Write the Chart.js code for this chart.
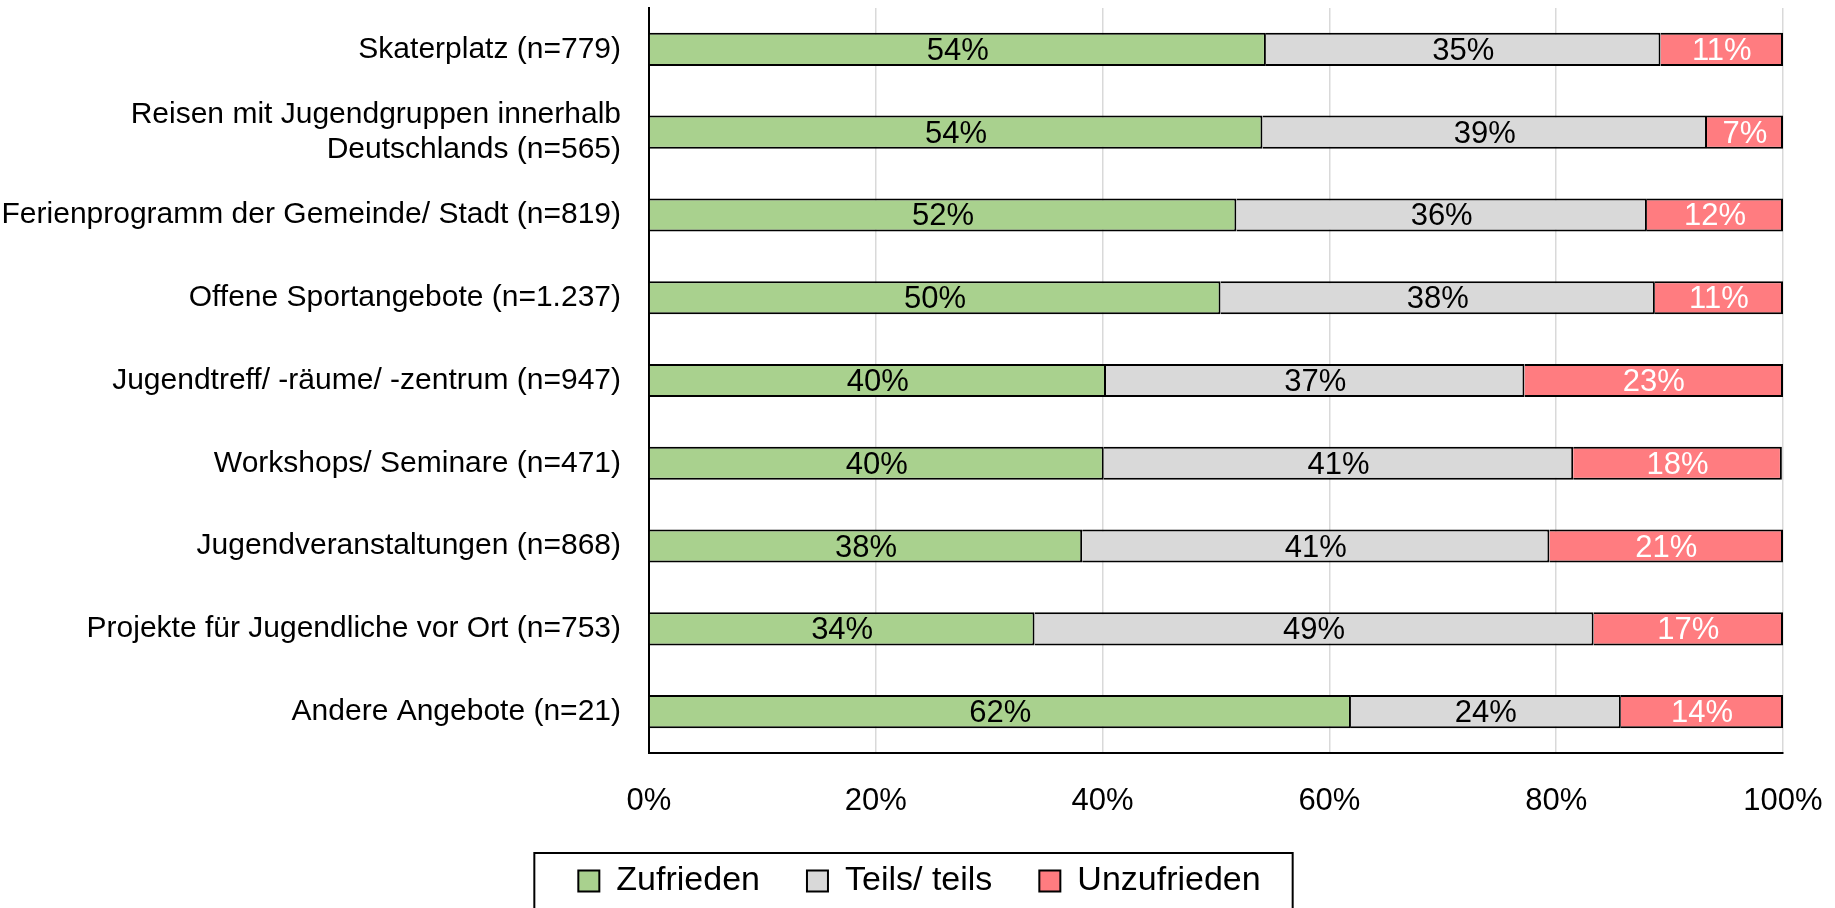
<!DOCTYPE html>
<html lang="de">
<head>
    <meta charset="UTF-8">
    <title>Zufriedenheit mit Angeboten</title>
    <script src="https://cdn.jsdelivr.net/npm/chart.js"></script>
    <style>
        body {
            margin: 0;
            background: #fff;
        }
    </style>
</head>
<body>
    <canvas id="chart" width="1835" height="908"></canvas>

    <script>
        // categories (top to bottom)
        const categories = [
            'Skaterplatz (n=779)',
            ['Reisen mit Jugendgruppen innerhalb', 'Deutschlands (n=565)'],
            'Ferienprogramm der Gemeinde/ Stadt (n=819)',
            'Offene Sportangebote (n=1.237)',
            'Jugendtreff/ -räume/ -zentrum (n=947)',
            'Workshops/ Seminare (n=471)',
            'Jugendveranstaltungen (n=868)',
            'Projekte für Jugendliche vor Ort (n=753)',
            'Andere Angebote (n=21)'
        ];

        // shares in percent
        const zufrieden   = [54.4, 54.1, 51.8, 50.4, 40.3, 40.1, 38.2, 34.0, 61.9];
        const teils       = [34.8, 39.2, 36.2, 38.3, 36.9, 41.4, 41.2, 49.3, 23.8];
        const unzufrieden = [10.8,  6.7, 12.0, 11.3, 22.8, 18.4, 20.6, 16.7, 14.3];

        const xTicks = [0, 20, 40, 60, 80, 100];

        const FONT = '"Liberation Sans", Arial, sans-serif';
        const LEGEND_SHIFT = 28;

        // value labels in the middle of each segment
        const segmentLabels = {
            id: 'segmentLabels',
            afterDatasetsDraw(chart) {
                const ctx = chart.ctx;
                ctx.save();
                ctx.font = '31px ' + FONT;
                ctx.textAlign = 'center';
                ctx.textBaseline = 'middle';
                chart.data.datasets.forEach((ds, i) => {
                    const meta = chart.getDatasetMeta(i);
                    ctx.fillStyle = ds.labelColor;
                    meta.data.forEach((bar, j) => {
                        const cx = (bar.x + bar.base) / 2;
                        ctx.fillText(Math.round(ds.data[j]) + '%', cx, bar.y + 2);
                    });
                });
                ctx.restore();
            }
        };

        // legend sits centred on the whole page, not on the padded box; frame around it
        const legendFrame = {
            id: 'legendFrame',
            afterUpdate(chart) {
                const lg = chart.legend;
                lg.left += LEGEND_SHIFT;
                lg.right += LEGEND_SHIFT;
                (lg.legendHitBoxes || []).forEach(hb => { hb.left += LEGEND_SHIFT; });
            },
            afterDraw(chart) {
                const lg = chart.legend;
                const boxes = lg.legendHitBoxes;
                if (!boxes || !boxes.length) return;
                const first = boxes[0];
                const last = boxes[boxes.length - 1];
                const ctx = chart.ctx;
                ctx.save();
                ctx.strokeStyle = '#000';
                ctx.lineWidth = 2;
                const left = first.left - 44;
                const right = last.left + last.width + 32;
                const top = lg.top + lg.options.labels.padding - 11;
                ctx.strokeRect(left, top, right - left, chart.height - top + 10);
                ctx.restore();
            }
        };

        const ctx = document.getElementById('chart').getContext('2d');

        new Chart(ctx, {
            type: 'bar',
            data: {
                labels: categories,
                datasets: [
                    {
                        label: 'Zufrieden',
                        data: zufrieden,
                        backgroundColor: '#a9d18e',
                        borderColor: '#000',
                        borderWidth: 2,
                        labelColor: '#000'
                    },
                    {
                        label: 'Teils/ teils',
                        data: teils,
                        backgroundColor: '#d9d9d9',
                        borderColor: '#000',
                        borderWidth: 2,
                        labelColor: '#000'
                    },
                    {
                        label: 'Unzufrieden',
                        data: unzufrieden,
                        backgroundColor: '#ff7c80',
                        borderColor: '#000',
                        borderWidth: 2,
                        labelColor: '#fff'
                    }
                ]
            },
            options: {
                indexAxis: 'y',
                responsive: false,
                animation: false,
                devicePixelRatio: 1,
                categoryPercentage: 1,
                barPercentage: 0.4,
                layout: {
                    padding: { top: 8, right: 52, left: 0, bottom: 0 }
                },
                scales: {
                    x: {
                        stacked: true,
                        min: 0,
                        max: 100,
                        afterBuildTicks(scale) {
                            scale.ticks = xTicks.map(v => ({ value: v }));
                        },
                        afterFit(scale) {
                            scale.height = 64;
                            scale.paddingLeft = 0;
                            scale.paddingRight = 0;
                        },
                        ticks: {
                            padding: 30,
                            color: '#000',
                            font: { family: FONT, size: 31 },
                            callback: v => v + '%'
                        },
                        grid: {
                            drawTicks: false,
                            color: ctx => ctx.tick && ctx.tick.value === 0 ? 'rgba(0,0,0,0)' : '#d9d9d9',
                            lineWidth: 1.5
                        },
                        border: { color: '#000', width: 2 }
                    },
                    y: {
                        stacked: true,
                        afterFit(scale) {
                            scale.width = 649;
                            scale.paddingTop = 0;
                            scale.paddingBottom = 0;
                        },
                        ticks: {
                            padding: 28,
                            color: '#000',
                            font: { family: FONT, size: 30, lineHeight: 1.15 }
                        },
                        grid: { display: false, drawTicks: false },
                        border: { color: '#000', width: 2 }
                    }
                },
                plugins: {
                    legend: {
                        position: 'bottom',
                        labels: {
                            color: '#000',
                            font: { family: FONT, size: 34 },
                            boxWidth: 21,
                            boxHeight: 21,
                            padding: 47
                        }
                    },
                    tooltip: { enabled: false }
                }
            },
            plugins: [segmentLabels, legendFrame]
        });
    </script>
</body>
</html>
